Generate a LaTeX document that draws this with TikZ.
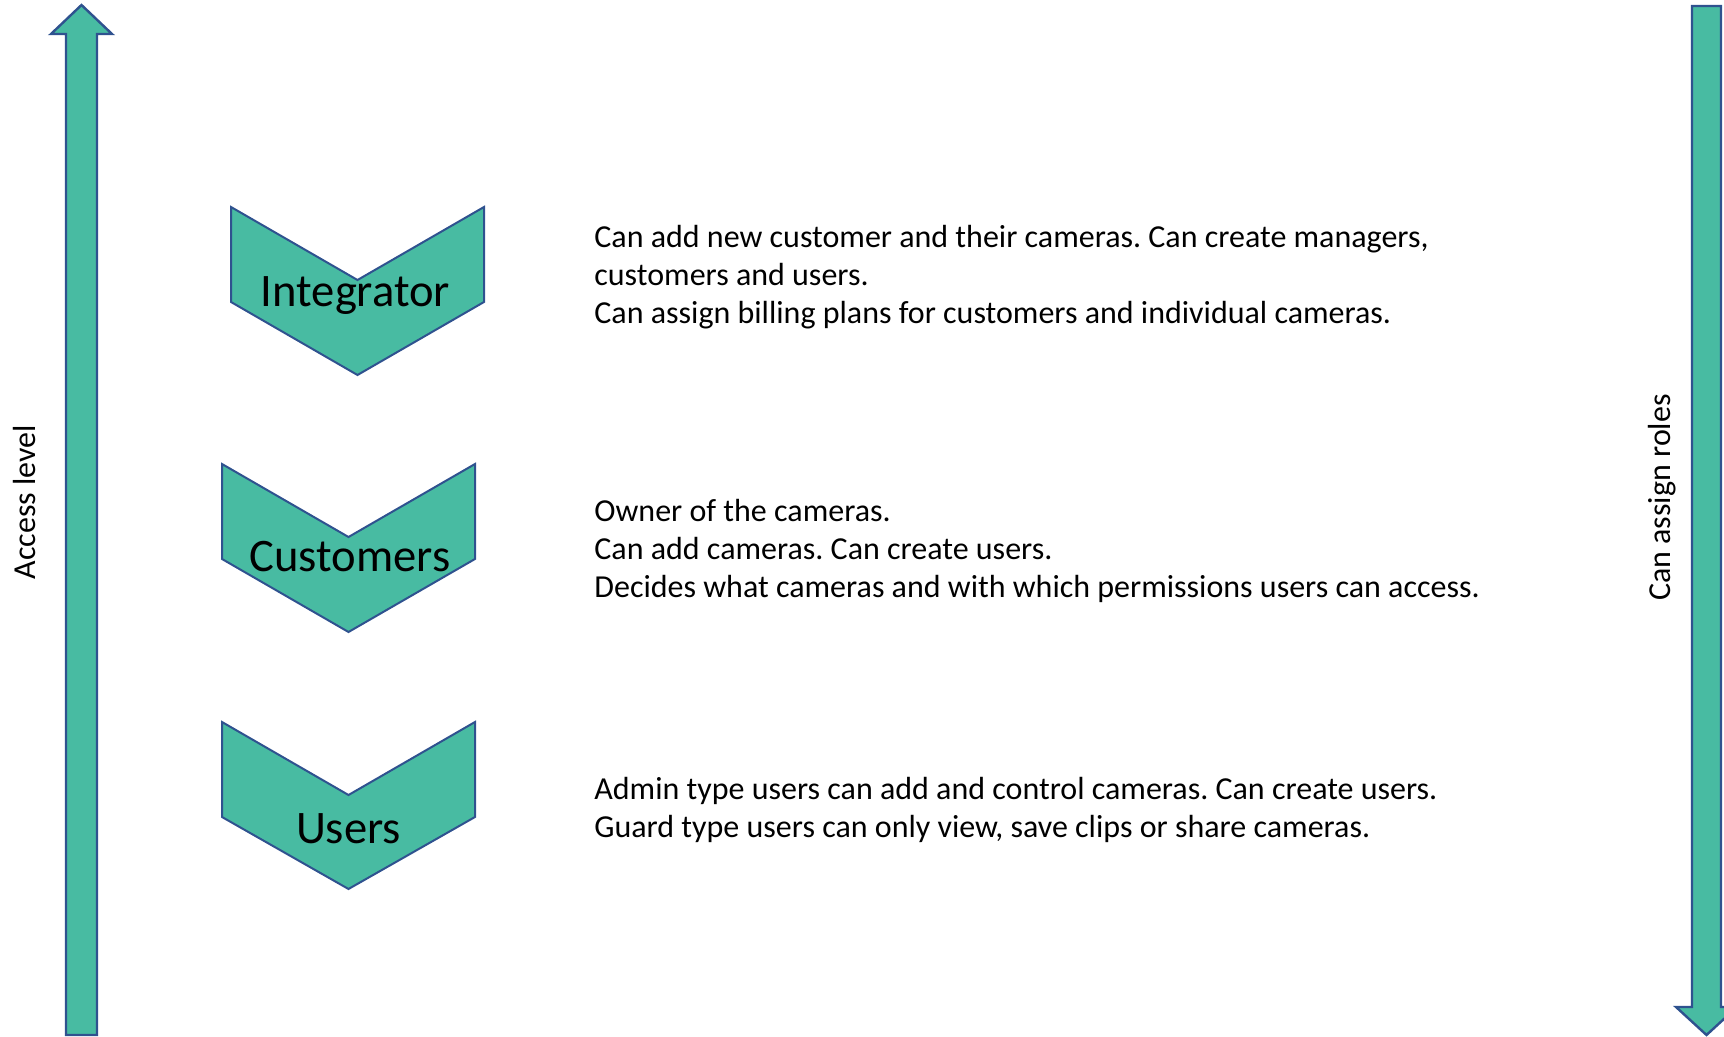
\documentclass[tikz,border=0pt]{standalone}
\usepackage{fontspec}
\setmainfont{Carlito}
\usepackage{xcolor}
\definecolor{roleteal}{RGB}{72,187,162}
\definecolor{roleblue}{RGB}{47,82,143}
\frenchspacing

\begin{document}
\begin{tikzpicture}[x=0.5pt, y=-0.5pt,
		chevbox/.style={draw=roleblue, fill=roleteal, line width=1pt},
		bigarrow/.style={draw=roleblue, fill=roleteal, line width=1.2pt},
		rolename/.style={font=\fontsize{23.3}{28}\selectfont, anchor=base, inner sep=0pt},
		roletext/.style={font=\fontsize{16}{19}\selectfont, align=left, anchor=base west, inner sep=0pt},
		sidetext/.style={font=\fontsize{16}{19}\selectfont, rotate=90, anchor=base, inner sep=0pt}]
		\useasboundingbox (0,0) rectangle (1724,1037);
		\clip (0,0) rectangle (1724,1037);
		% side arrows
		\draw[bigarrow] (66,1035) -- (66,34) -- (51,34) -- (81.5,5) -- (112,34) -- (97,34) -- (97,1035) -- cycle;
		\draw[bigarrow] (1692,6) -- (1721,6) -- (1721,1007) -- (1737,1007) -- (1706.5,1035) -- (1676,1007) -- (1692,1007) -- cycle;
		\node[sidetext] (access) at (35,502) {Access level};
		\node[sidetext] (assign) at (1670,497.5) {Can assign roles};
		% roles
		\draw[chevbox] (231,207) -- ++(126.5,73) -- ++(126.5,-73) -- ++(0,95) -- ++(-126.5,73) -- ++(-126.5,-73) -- cycle;
		\draw[chevbox] (222,464) -- ++(126.5,73) -- ++(126.5,-73) -- ++(0,95) -- ++(-126.5,73) -- ++(-126.5,-73) -- cycle;
		\draw[chevbox] (222,722) -- ++(126.5,73) -- ++(126.5,-73) -- ++(0,95) -- ++(-126.5,72) -- ++(-126.5,-72) -- cycle;
		\node[rolename] (integ) at (355.5,307) {Integrator};
		\node[rolename] (cust) at (350,571) {Customers};
		\node[rolename] (users) at (348.5,843) {Users};
		% descriptions (anchored at the last line)
		\node[roletext] (integtxt) at (594,324) {Can add new customer and their cameras. Can create managers,\\customers and users.\\Can assign billing plans for customers and individual cameras.};
		\node[roletext] (custtxt) at (594,597) {Owner of the cameras.\\Can add cameras. Can create users.\\Decides what cameras and with which permissions users can access.};
		\node[roletext] (userstxt) at (594,837) {Admin type users can add and control cameras. Can create users.\\Guard type users can only view, save clips or share cameras.};
\end{tikzpicture}
\end{document}
